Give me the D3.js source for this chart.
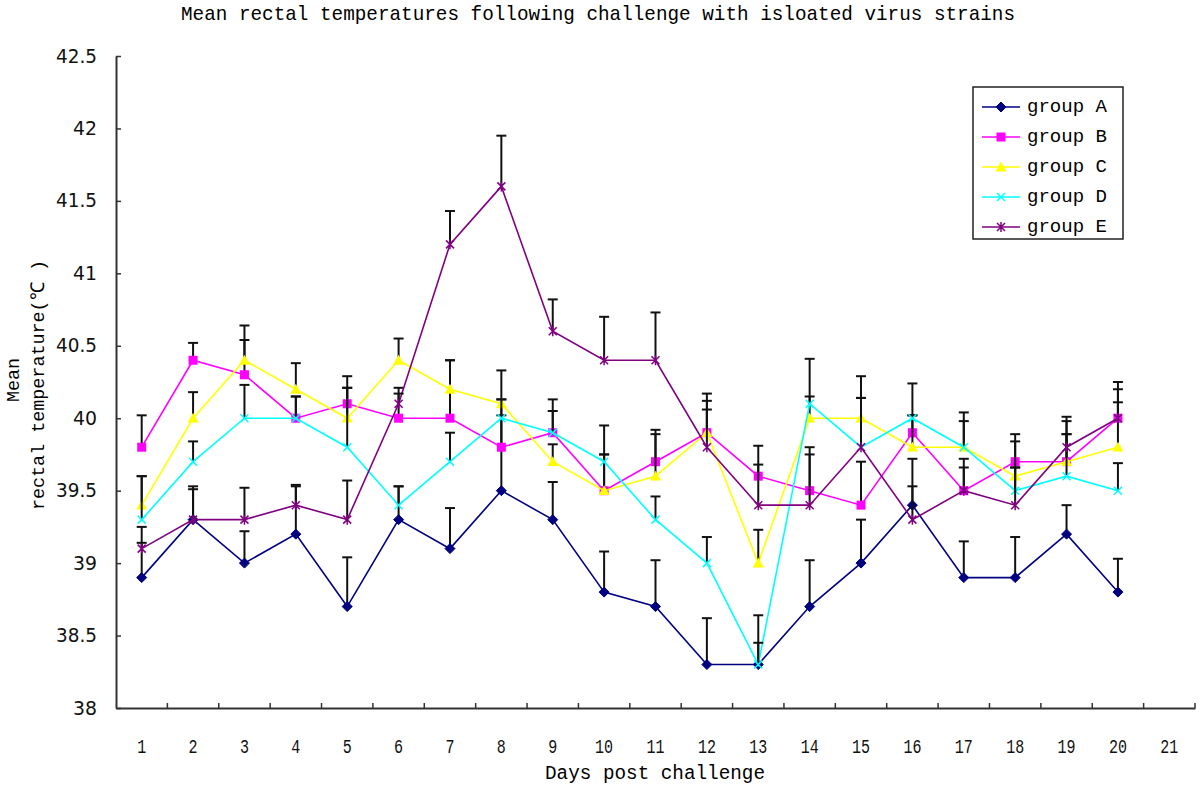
<!DOCTYPE html>
<html>
<head>
<meta charset="utf-8">
<script src="https://cdn.jsdelivr.net/npm/d3@7"></script>
<style>
  html, body { margin: 0; padding: 0; background: #fff; }
  svg { display: block; }
</style>
</head>
<body>
<svg id="chart" width="1200" height="785"></svg>
<script>
const titleText = "Mean rectal temperatures following challenge with isloated virus strains";
const xTitle = "Days post challenge";
const yTitle1 = "Mean";
const yTitle2 = "rectal temperature(\u2103 )";

const days = [1,2,3,4,5,6,7,8,9,10,11,12,13,14,15,16,17,18,19,20,21];
const yTicks = [38, 38.5, 39, 39.5, 40, 40.5, 41, 41.5, 42, 42.5];
const seriesNames = ["group A", "group B", "group C", "group D", "group E"];

const groupA = [38.9,39.3,39.0,39.2,38.7,39.3,39.1,39.5,39.3,38.8,38.7,38.3,38.3,38.7,39.0,39.4,38.9,38.9,39.2,38.8];
const groupB = [39.8,40.4,40.3,40.0,40.1,40.0,40.0,39.8,39.9,39.5,39.7,39.9,39.6,39.5,39.4,39.9,39.5,39.7,39.7,40.0];
const groupC = [39.4,40.0,40.4,40.2,40.0,40.4,40.2,40.1,39.7,39.5,39.6,39.9,39.0,40.0,40.0,39.8,39.8,39.6,39.7,39.8];
const groupD = [39.3,39.7,40.0,40.0,39.8,39.4,39.7,40.0,39.9,39.7,39.3,39.0,38.3,40.1,39.8,40.0,39.8,39.5,39.6,39.5];
const groupE = [39.1,39.3,39.3,39.4,39.3,40.1,41.2,41.6,40.6,40.4,40.4,39.8,39.4,39.4,39.8,39.3,39.5,39.4,39.8,40.0];

const errA = [0.24,0.23,0.22,0.34,0.34,0.23,0.28,0.52,0.26,0.28,0.32,0.32,0.34,0.32,0.30,0.32,0.25,0.28,0.20,0.23];
const errB = [0.22,0.12,0.24,0.15,0.19,0.21,0.40,0.33,0.23,0.25,0.22,0.27,0.21,0.30,0.30,0.12,0.22,0.19,0.28,0.25];
const errC = [0.20,0.18,0.24,0.18,0.21,0.15,0.20,0.23,0.12,0.25,0.29,0.22,0.23,0.15,0.29,0.22,0.18,0.24,0.19,0.31];
const errD = [0.30,0.14,0.23,0.15,0.41,0.13,0.20,0.13,0.15,0.25,0.16,0.18,0.15,0.31,0.34,0.24,0.24,0.16,0.29,0.19];
const errE = [0.15,0.21,0.22,0.13,0.27,0.07,0.23,0.35,0.22,0.30,0.33,0.26,0.28,0.35,0.34,0.23,0.16,0.26,0.21,0.20];

const colors = ["#000080", "#FF00FF", "#FFFF00", "#00FFFF", "#800080"];
const markers = ["diamond", "square", "triangle", "cross", "star"];

const series = seriesNames.map((name, i) => ({
  name,
  color: colors[i],
  marker: markers[i],
  values: [groupA, groupB, groupC, groupD, groupE][i],
  errors: [errA, errB, errC, errD, errE][i]
}));

const svg = d3.select("#chart");
const plotLeft = 116, plotRight = 1195, plotTop = 56, plotBottom = 708;

const x = d3.scaleBand().domain(days).range([plotLeft, plotRight]).padding(0);
const y = d3.scaleLinear().domain([38, 42.5]).range([plotBottom, plotTop]);
const cx = d => x(d) + x.bandwidth() / 2;

const monoFont = "'Liberation Mono', 'DejaVu Sans Mono', monospace";

// Title
svg.append("text")
  .attr("x", 598).attr("y", 14)
  .attr("text-anchor", "middle").attr("dominant-baseline", "central")
  .attr("font-family", monoFont).attr("font-size", 21)
  .attr("textLength", 834).attr("lengthAdjust", "spacingAndGlyphs")
  .attr("fill", "#000")
  .text(titleText);

// Y axis
const yAxis = d3.axisLeft(y).tickValues(yTicks).tickSizeInner(-5).tickSizeOuter(0)
  .tickPadding(19).tickFormat(d => String(d));
const gy = svg.append("g").attr("transform", `translate(${plotLeft},0)`).call(yAxis);
gy.select(".domain").attr("stroke", "#333").attr("stroke-width", 2);
gy.selectAll(".tick line").attr("stroke", "#333").attr("stroke-width", 1.5);
gy.selectAll(".tick text").attr("font-family", "'DejaVu Sans', sans-serif")
  .attr("font-size", 19).attr("fill", "#111")
  .each(function(d) {
    const s = String(d);
    d3.select(this).attr("textLength", s.length === 4 ? 41 : 24).attr("lengthAdjust", "spacingAndGlyphs");
  });

// X axis (labels centred in categories, tick marks between)
const xAxis = d3.axisBottom(x).tickSize(0).tickPadding(30).tickSizeOuter(0);
const gx = svg.append("g").attr("transform", `translate(0,${plotBottom})`).call(xAxis);
gx.select(".domain").attr("stroke", "#333").attr("stroke-width", 2);
gx.selectAll(".tick text").attr("font-family", monoFont).attr("font-size", 21)
  .attr("fill", "#111")
  .each(function(d) {
    const s = String(d);
    d3.select(this).attr("textLength", s.length * 9).attr("lengthAdjust", "spacingAndGlyphs");
  });
const boundaries = days.slice(1).map(d => x(d)).concat([x.range()[1]]);
svg.append("g").selectAll("line").data(boundaries).join("line")
  .attr("x1", d => d).attr("x2", d => d)
  .attr("y1", plotBottom).attr("y2", plotBottom - 5)
  .attr("stroke", "#333").attr("stroke-width", 1.5);

// Axis titles
svg.append("text")
  .attr("x", 655).attr("y", 773)
  .attr("text-anchor", "middle").attr("dominant-baseline", "central")
  .attr("font-family", monoFont).attr("font-size", 20)
  .attr("textLength", 220).attr("lengthAdjust", "spacingAndGlyphs")
  .attr("fill", "#000").text(xTitle);

svg.append("text")
  .attr("transform", "translate(14,380) rotate(-90)")
  .attr("text-anchor", "middle").attr("dominant-baseline", "central")
  .attr("font-family", monoFont).attr("font-size", 19)
  .attr("textLength", 44).attr("lengthAdjust", "spacingAndGlyphs")
  .attr("fill", "#000").text(yTitle1);
svg.append("text")
  .attr("transform", "translate(39,385) rotate(-90)")
  .attr("text-anchor", "middle").attr("dominant-baseline", "central")
  .attr("font-family", monoFont).attr("font-size", 19)
  .attr("textLength", 250).attr("lengthAdjust", "spacingAndGlyphs")
  .attr("fill", "#000").text(yTitle2);

// Marker drawing
function drawMarker(g, type, color, px, py, scale) {
  const s = scale || 1;
  if (type === "diamond") {
    const r = 5 * s;
    g.append("path").attr("d", `M${px},${py - r}L${px + r},${py}L${px},${py + r}L${px - r},${py}Z`)
      .attr("fill", color).attr("stroke", color).attr("stroke-width", 1);
  } else if (type === "square") {
    const r = 4.5 * s;
    g.append("rect").attr("x", px - r).attr("y", py - r).attr("width", 2 * r).attr("height", 2 * r)
      .attr("fill", color);
  } else if (type === "triangle") {
    const r = 5.5 * s;
    g.append("path").attr("d", `M${px},${py - r}L${px + r},${py + r * 0.8}L${px - r},${py + r * 0.8}Z`)
      .attr("fill", color);
  } else if (type === "cross") {
    const r = 4 * s;
    g.append("path").attr("d", `M${px - r},${py - r}L${px + r},${py + r}M${px - r},${py + r}L${px + r},${py - r}`)
      .attr("stroke", color).attr("stroke-width", 1.5).attr("fill", "none");
  } else if (type === "star") {
    const r = 4 * s;
    g.append("path").attr("d", `M${px - r},${py - r}L${px + r},${py + r}M${px - r},${py + r}L${px + r},${py - r}M${px},${py - r - 1}L${px},${py + r + 1}`)
      .attr("stroke", color).attr("stroke-width", 1.5).attr("fill", "none");
  }
}

const line = d3.line().x((v, i) => cx(days[i])).y(v => y(v));
const plot = svg.append("g");

series.forEach(s => {
  const g = plot.append("g");
  g.append("path").datum(s.values).attr("d", line)
    .attr("fill", "none").attr("stroke", s.color).attr("stroke-width", 1.6);
  // upper error bars
  const eb = g.append("g");
  s.values.forEach((v, i) => {
    const px = cx(days[i]);
    const yTop = y(v + s.errors[i]);
    eb.append("line").attr("x1", px).attr("x2", px).attr("y1", y(v)).attr("y2", yTop)
      .attr("stroke", "#111").attr("stroke-width", 2);
    eb.append("line").attr("x1", px - 5).attr("x2", px + 5).attr("y1", yTop).attr("y2", yTop)
      .attr("stroke", "#111").attr("stroke-width", 2);
  });
  const mg = g.append("g");
  s.values.forEach((v, i) => drawMarker(mg, s.marker, s.color, cx(days[i]), y(v)));
});

// Legend
const legend = svg.append("g");
legend.append("rect").attr("x", 973).attr("y", 87).attr("width", 150).attr("height", 152)
  .attr("fill", "#fff").attr("stroke", "#222").attr("stroke-width", 1.5);
const legendY = d3.scalePoint().domain(seriesNames).range([107, 227]);
series.forEach(s => {
  const ly = legendY(s.name);
  legend.append("line").attr("x1", 982).attr("x2", 1020).attr("y1", ly).attr("y2", ly)
    .attr("stroke", s.color).attr("stroke-width", 1.6);
  drawMarker(legend, s.marker, s.color, 1001, ly);
  legend.append("text").attr("x", 1027).attr("y", ly)
    .attr("dominant-baseline", "central")
    .attr("font-family", monoFont).attr("font-size", 19)
    .attr("textLength", 80).attr("lengthAdjust", "spacingAndGlyphs")
    .attr("fill", "#000").text(s.name);
});
</script>
</body>
</html>
